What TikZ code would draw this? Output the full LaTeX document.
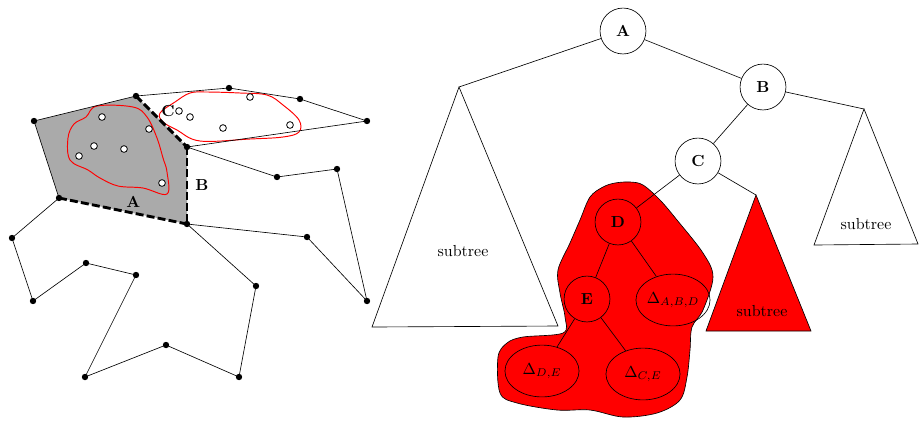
\documentclass[tikz,border=0pt]{standalone}
\usepackage{amsmath,amssymb}
\usepackage{xcolor}
\usepackage{tikz}
\usetikzlibrary{shapes.geometric}

\definecolor{regiongray}{RGB}{170,170,170}

\tikzset{
    vertex/.style={circle, fill=black, inner sep=0pt, minimum size=4pt},
    sample/.style={circle, draw=black, fill=white, inner sep=0pt, minimum size=4.2pt, line width=0.5pt},
    diag/.style={line width=1.8pt, dash pattern=on 5pt off 2pt},
    treenode/.style={circle, draw, fill=white, inner sep=0pt, minimum size=10.1mm, font=\bfseries},
    deltanode/.style={ellipse, draw, inner sep=0pt, minimum width=16.3mm, minimum height=11.4mm},
    blob/.style={draw=red, semithick},
}

\begin{document}
\begin{tikzpicture}[x=0.22mm, y=-0.22mm]
        \useasboundingbox (0,0) rectangle (919,421);

        %POLYGON VERTICES
        \coordinate (v1) at (34,121);
        \coordinate (v2) at (136,96);
        \coordinate (v3) at (229,88);
        \coordinate (v4) at (300,99);
        \coordinate (v5) at (367,121);
        \coordinate (v6) at (187,147);
        \coordinate (v7) at (277,177);
        \coordinate (v8) at (337,169);
        \coordinate (v9) at (367,301);
        \coordinate (v10) at (307,237);
        \coordinate (v11) at (187,224);
        \coordinate (v12) at (256,286);
        \coordinate (v13) at (239,377);
        \coordinate (v14) at (166,345);
        \coordinate (v15) at (85,377);
        \coordinate (v16) at (136,275);
        \coordinate (v17) at (86,263);
        \coordinate (v18) at (33,301);
        \coordinate (v19) at (12,238);
        \coordinate (v20) at (59,198);

        %GRAY PIECE
        \fill[regiongray] (v1) -- (v2) -- (v6) -- (v11) -- (v20) -- cycle;

        %REGIONS
        \draw[blob] plot[smooth cycle, tension=0.6] coordinates {
            (97,106) (133,107) (147,117) (157,138) (163,158) (167,172) (167,194)
            (143,188) (118,186) (100,178) (88,170) (70,160) (68,138) (74,124) (86,117)};
        \draw[blob] plot[smooth cycle, tension=0.6] coordinates {
            (160,113) (175,102) (190,93) (207,92) (240,93) (267,95) (283,105)
            (299,120) (299,132) (283,137) (250,139) (200,141) (177,130) (163,122)};

        %POLYGON
        \draw (v1) -- (v2) -- (v3) -- (v4) -- (v5) -- (v6) -- (v7) -- (v8) -- (v9) -- (v10)
            -- (v11) -- (v12) -- (v13) -- (v14) -- (v15) -- (v16) -- (v17) -- (v18) -- (v19)
            -- (v20) -- cycle;

        %DIAGONALS
        \draw[diag] (v2) -- (v6);
        \draw[diag] (v6) -- (v11) node[pos=0.5, right=1pt, font=\bfseries] (labB) {B};
        \draw[diag] (v20) -- (v11) node[pos=0.58, above=-1pt, font=\bfseries] (labA) {A};
        \node[font=\bfseries] (labC) at (168,111) {C};

        \foreach \v in {1,...,20}
            \node[vertex] at (v\v) {};

        %POINTS
        \foreach \p in {(102,117),(149,129),(94,146),(124,149),(79,156),(162,183),
                        (179,111),(190,117),(250,97),(223,128),(290,125)}
            \node[sample] at \p {};

        %RED SUBTREE REGION
        \draw[fill=red] plot[smooth cycle, tension=0.55] coordinates {
            (630,182) (643,185) (660,200) (677,220) (703,253) (713,277) (703,310)
            (692,327) (690,350) (687,377) (680,400) (657,413) (623,417) (590,410)
            (557,410) (517,403) (500,393) (498,357) (507,343) (523,337) (563,333)
            (565,317) (560,293) (558,270) (570,243) (580,220) (590,197) (603,187) (615,183)};

        %SUBTREES
        \coordinate (t1) at (459,87);
        \coordinate (t2) at (864,109);
        \coordinate (t3) at (756,195);
        \draw (t1) -- (372,327) -- (558,326) -- cycle;
        \node (sub1) at (463,251) {subtree};
        \draw (t2) -- (814,245) -- (918,244) -- cycle;
        \node (sub2) at (866,224) {subtree};
        \draw[fill=red] (t3) -- (706,331) -- (811,331) -- cycle;
        \node (sub3) at (762,311) {subtree};

        %TREE
        \node[treenode] (A) at (623,31) {A};
        \node[treenode] (B) at (763,87) {B};
        \node[treenode] (C) at (698,161) {C};
        \node[treenode, fill=none] (D) at (618,222) {D};
        \node[treenode, fill=none] (E) at (587,299) {E};
        \node[deltanode] (dABD) at (673,300) {$\Delta_{A,B,D}$};
        \node[deltanode] (dDE) at (542,371) {$\Delta_{D,E}$};
        \node[deltanode] (dCE) at (643,374) {$\Delta_{C,E}$};

        \draw (A) -- (t1);
        \draw (A) -- (B);
        \draw (B) -- (t2);
        \draw (B) -- (C);
        \draw (C) -- (D);
        \draw (C) -- (t3);
        \draw (D) -- (E);
        \draw (D) -- (dABD);
        \draw (E) -- (dDE);
        \draw (E) -- (dCE);
    \end{tikzpicture}
\end{document}
